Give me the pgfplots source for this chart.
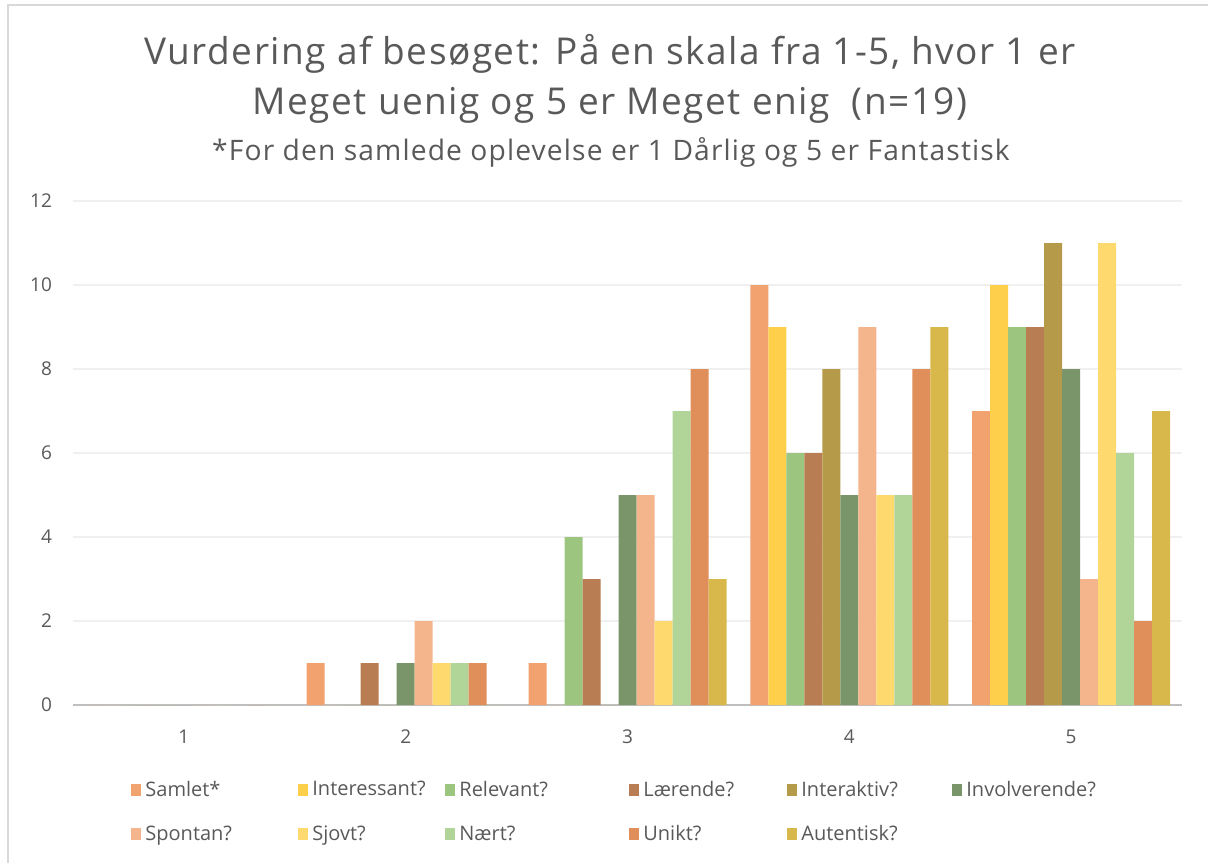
\documentclass[border=0pt]{standalone}
\usepackage{pgfplots}
\pgfplotsset{compat=1.18}
\usepackage{fontspec}
\setmainfont{Open Sans}
\newfontfamily\titlefont[LetterSpace=4]{Open Sans}

\definecolor{txt}{HTML}{595959}
\definecolor{c1}{HTML}{F2A26E}
\definecolor{c2}{HTML}{FDCF4B}
\definecolor{c3}{HTML}{9CC57F}
\definecolor{c4}{HTML}{B87D52}
\definecolor{c5}{HTML}{B59A4A}
\definecolor{c6}{HTML}{7A956A}
\definecolor{c7}{HTML}{F4B58C}
\definecolor{c8}{HTML}{FED96E}
\definecolor{c9}{HTML}{B1D498}
\definecolor{c10}{HTML}{E08E5A}
\definecolor{c11}{HTML}{D8B84A}

\begin{document}
\begin{tikzpicture}
\path[use as bounding box] (0,0) rectangle (604pt,431.5pt);
\draw[draw={rgb,255:red,217;green,217;blue,217}, line width=0.8pt] (4pt,0) -- (4pt,429pt) -- (604pt,429pt);

% title block
\node[txt, font=\titlefont\fontsize{18.5}{22}\selectfont] at (305pt,404.5pt) {Vurdering af besøget: På en skala fra 1-5, hvor 1 er};
\node[txt, font=\titlefont\fontsize{18.5}{22}\selectfont] at (305pt,379pt) {Meget uenig og 5 er Meget enig\ \ (n=19)};
\node[txt, font=\titlefont\fontsize{14.1}{17}\selectfont] at (305.5pt,355.5pt) {*For den samlede oplevelse er 1 Dårlig og 5 er Fantastisk};

\begin{axis}[
  at={(36.5pt,79pt)}, anchor=south west,
  scale only axis,
  width=554.5pt, height=252pt,
  ybar=0pt, bar width=9pt,
  xmin=0.5, xmax=5.5,
  ymin=0, ymax=12,
  xtick={1,2,3,4,5},
  ytick={0,2,4,6,8,10,12},
  ymajorgrids,
  grid style={draw={rgb,255:red,240;green,240;blue,240}, line width=0.8pt},
  axis x line*=bottom,
  axis y line*=left,
  x axis line style={draw={rgb,255:red,191;green,191;blue,191}, line width=1.1pt, -},
  y axis line style={draw=none},
  major tick length=0pt,
  tick label style={txt, font=\fontsize{9.5}{11}\selectfont},
  /pgf/number format/assume math mode=true,
  yticklabel style={xshift=-7pt},
  xticklabel style={yshift=-9pt},
  legend columns=6,
  legend style={at={(0.0523,-0.142)}, anchor=north west, draw=none, fill=none,
    inner sep=0pt, font=\fontsize{10}{12}\selectfont, text=txt,
    /tikz/every even column/.append style={column sep=0pt},
    row sep=9pt},
  legend image code/.code={\path[#1] (0pt,-3pt) rectangle (5pt,3pt);},
  every axis plot/.append style={draw=none},
]
\addplot+[fill=c1] coordinates {(1,0)(2,1)(3,1)(4,10)(5,7)};
\addplot+[fill=c2] coordinates {(1,0)(2,0)(3,0)(4,9)(5,10)};
\addplot+[fill=c3] coordinates {(1,0)(2,0)(3,4)(4,6)(5,9)};
\addplot+[fill=c4] coordinates {(1,0)(2,1)(3,3)(4,6)(5,9)};
\addplot+[fill=c5] coordinates {(1,0)(2,0)(3,0)(4,8)(5,11)};
\addplot+[fill=c6] coordinates {(1,0)(2,1)(3,5)(4,5)(5,8)};
\addplot+[fill=c7] coordinates {(1,0)(2,2)(3,5)(4,9)(5,3)};
\addplot+[fill=c8] coordinates {(1,0)(2,1)(3,2)(4,5)(5,11)};
\addplot+[fill=c9] coordinates {(1,0)(2,1)(3,7)(4,5)(5,6)};
\addplot+[fill=c10] coordinates {(1,0)(2,1)(3,8)(4,8)(5,2)};
\addplot+[fill=c11] coordinates {(1,0)(2,0)(3,3)(4,9)(5,7)};
\legend{
  \makebox[74.5pt][l]{Samlet*},
  \makebox[64.5pt][l]{Interessant?},
  \makebox[83pt][l]{Relevant?},
  \makebox[70pt][l]{Lærende?},
  \makebox[73.5pt][l]{Interaktiv?},
  Involverende?,
  \makebox[74.5pt][l]{Spontan?},
  \makebox[64.5pt][l]{Sjovt?},
  \makebox[83pt][l]{Nært?},
  \makebox[70pt][l]{Unikt?},
  \makebox[73.5pt][l]{Autentisk?}}
\end{axis}
\end{tikzpicture}
\end{document}
